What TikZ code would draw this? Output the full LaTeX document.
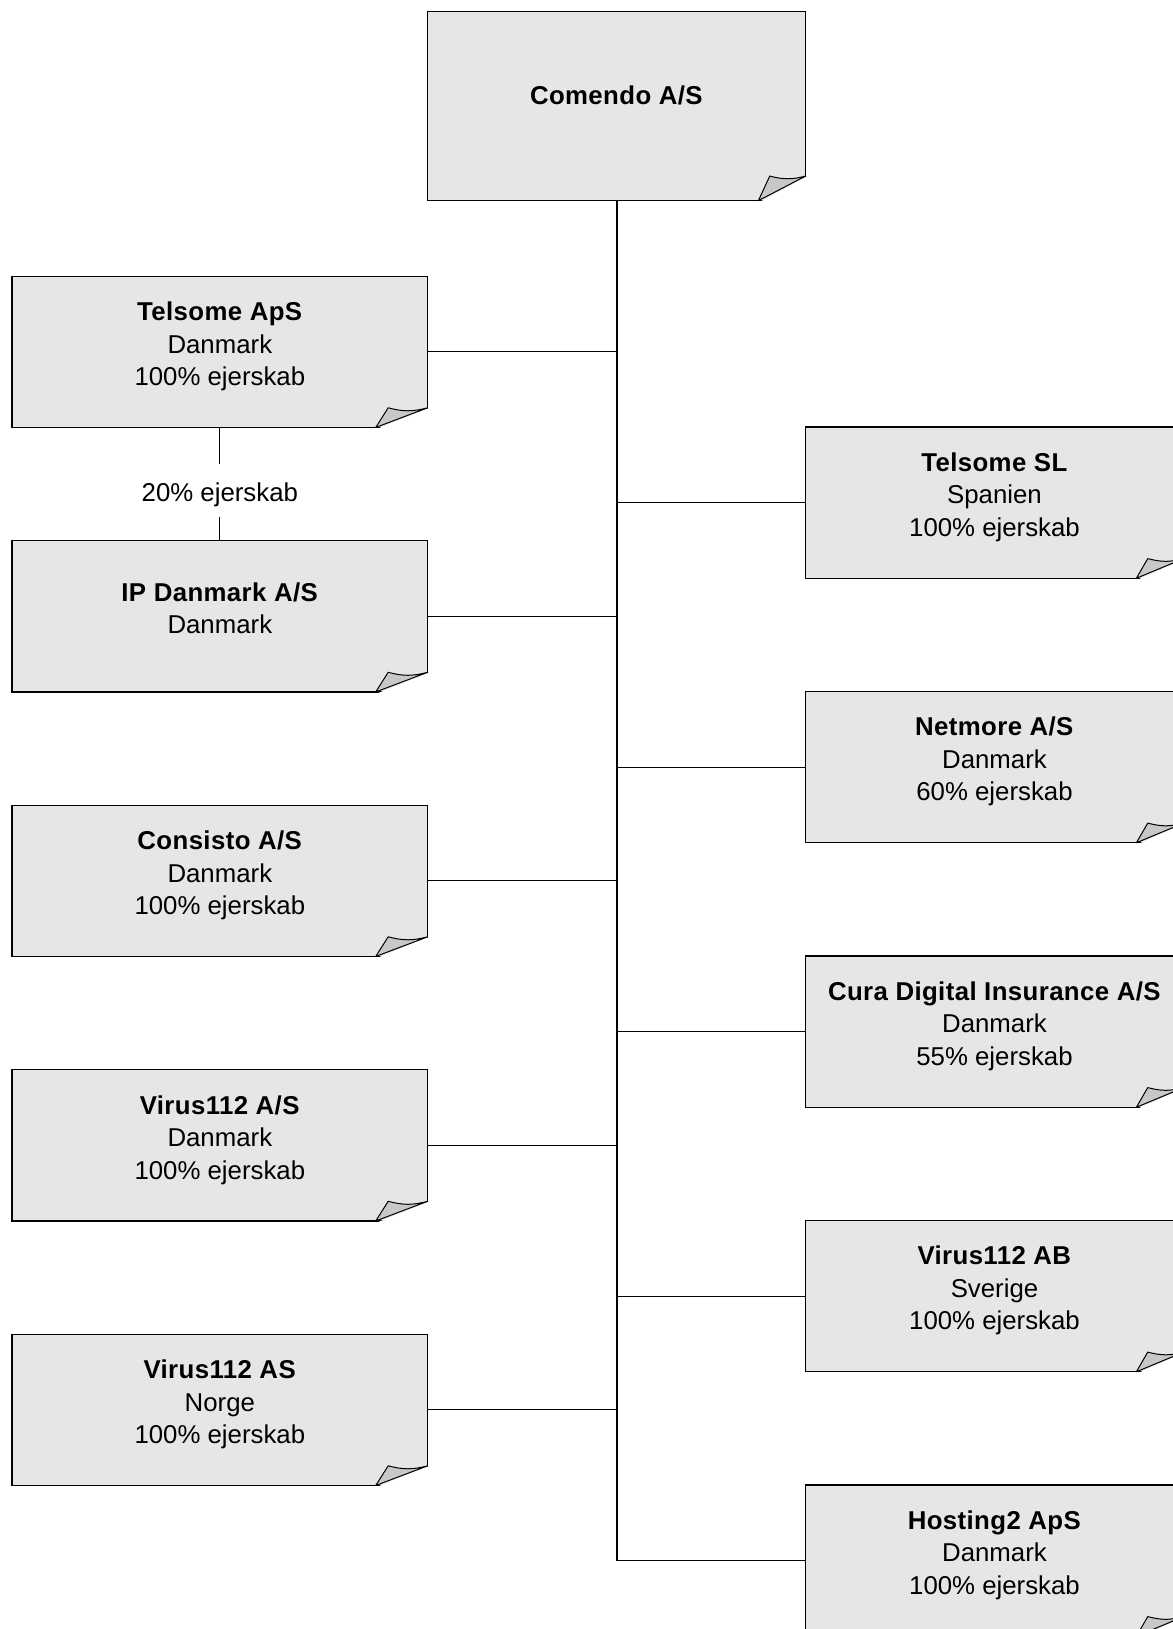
\documentclass[tikz,border=0pt]{standalone}
\usepackage{fontspec}
\setmainfont{Liberation Sans}[BoldFeatures={LetterSpace=1.5}]
\usetikzlibrary{positioning,calc}

\definecolor{boxfill}{RGB}{230,230,230}
\definecolor{foldfill}{RGB}{200,200,200}

\begin{document}
\begin{tikzpicture}[
    x=0.5pt, y=-0.5pt,
    node distance=56.6pt,
    every node/.style={font=\fontsize{12.9}{16.25}\selectfont, align=center, inner sep=0pt},
    box/.style={draw=black, line width=0.6pt, fill=boxfill, outer sep=0pt, minimum width=207.85pt, minimum height=75.65pt},
    narrowbox/.style={box, minimum width=189.2pt},
    link/.style={line width=0.5pt},
    trunk/.style={line width=1pt},
    fold/.style={draw=black, line width=0.5pt, fill=foldfill, line join=round}
]
\useasboundingbox (0,0) rectangle (1173,1629);

% boxes
\node[narrowbox, minimum height=94.65pt] (comendo) at (616.5,106) {};
\node[box] (telsomeaps) at (219.85,351.8) {};
\node[box, below=of telsomeaps] (ipdanmark) {};
\node[box, below=of ipdanmark] (consisto) {};
\node[box, below=of consisto] (virusdk) {};
\node[box, below=of virusdk] (virusno) {};
\node[narrowbox] (telsomesl) at (994.5,502.6) {};
\node[narrowbox, below=of telsomesl] (netmore) {};
\node[narrowbox, below=of netmore] (cura) {};
\node[narrowbox, below=of cura] (virusse) {};
\node[narrowbox, below=of virusse] (hosting) {};

% folded corners
\foreach \n in {comendo,telsomeaps,ipdanmark,consisto,virusdk,virusno,telsomesl,netmore,cura,virusse,hosting} {
  \coordinate (fa) at ($(\n.south east)!0.125!(\n.south west)$);
  \coordinate (fc) at ($(\n.south east)!0.13!(\n.north east)$);
  \coordinate (fp) at ($(fa)!0.24!(fc)$);
  \fill[white] ([yshift=-1pt]fa) -- ([xshift=1pt,yshift=-1pt]\n.south east) -- ([xshift=1pt]fc) -- cycle;
  \draw[fold] (fa) -- (fp |- fc) to[bend right=15] (fc) -- cycle;
}

% texts
\node (comendo-t) at ([yshift=5.1pt]comendo.center) {\textbf{Comendo A/S}};
\node (telsomeaps-t) at ([yshift=2.7pt]telsomeaps.center) {\textbf{Telsome ApS}\\Danmark\\100\% ejerskab};
\node (ipdanmark-t) at ([yshift=4pt]ipdanmark.center) {\textbf{IP Danmark A/S}\\Danmark};
\node (consisto-t) at ([yshift=2.7pt]consisto.center) {\textbf{Consisto A/S}\\Danmark\\100\% ejerskab};
\node (virusdk-t) at ([yshift=2.7pt]virusdk.center) {\textbf{Virus112 A/S}\\Danmark\\100\% ejerskab};
\node (virusno-t) at ([yshift=2.7pt]virusno.center) {\textbf{Virus112 AS}\\Norge\\100\% ejerskab};
\node (telsomesl-t) at ([yshift=2.7pt]telsomesl.center) {\textbf{Telsome SL}\\Spanien\\100\% ejerskab};
\node (netmore-t) at ([yshift=2.7pt]netmore.center) {\textbf{Netmore A/S}\\Danmark\\60\% ejerskab};
\node (cura-t) at ([yshift=2.7pt]cura.center) {\textbf{Cura Digital Insurance A/S}\\Danmark\\55\% ejerskab};
\node (virusse-t) at ([yshift=2.7pt]virusse.center) {\textbf{Virus112 AB}\\Sverige\\100\% ejerskab};
\node (hosting-t) at ([yshift=2.7pt]hosting.center) {\textbf{Hosting2 ApS}\\Danmark\\100\% ejerskab};

% connectors
\draw[trunk] (comendo.south) -- (comendo.south |- hosting.west);
\foreach \n in {telsomeaps,ipdanmark,consisto,virusdk,virusno}
  \draw[link] (\n.east) -- (\n.east -| comendo.south);
\foreach \n in {telsomesl,netmore,cura,virusse,hosting}
  \draw[link] (\n.west) -- (\n.west -| comendo.south);

\node (ejer20) at (219.85,495.2) {20\% ejerskab};
\draw[link] (telsomeaps.south) -- ([yshift=9.15pt]ejer20.north);
\draw[link] ([yshift=-4.85pt]ejer20.south) -- (ipdanmark.north);
\end{tikzpicture}
\end{document}
